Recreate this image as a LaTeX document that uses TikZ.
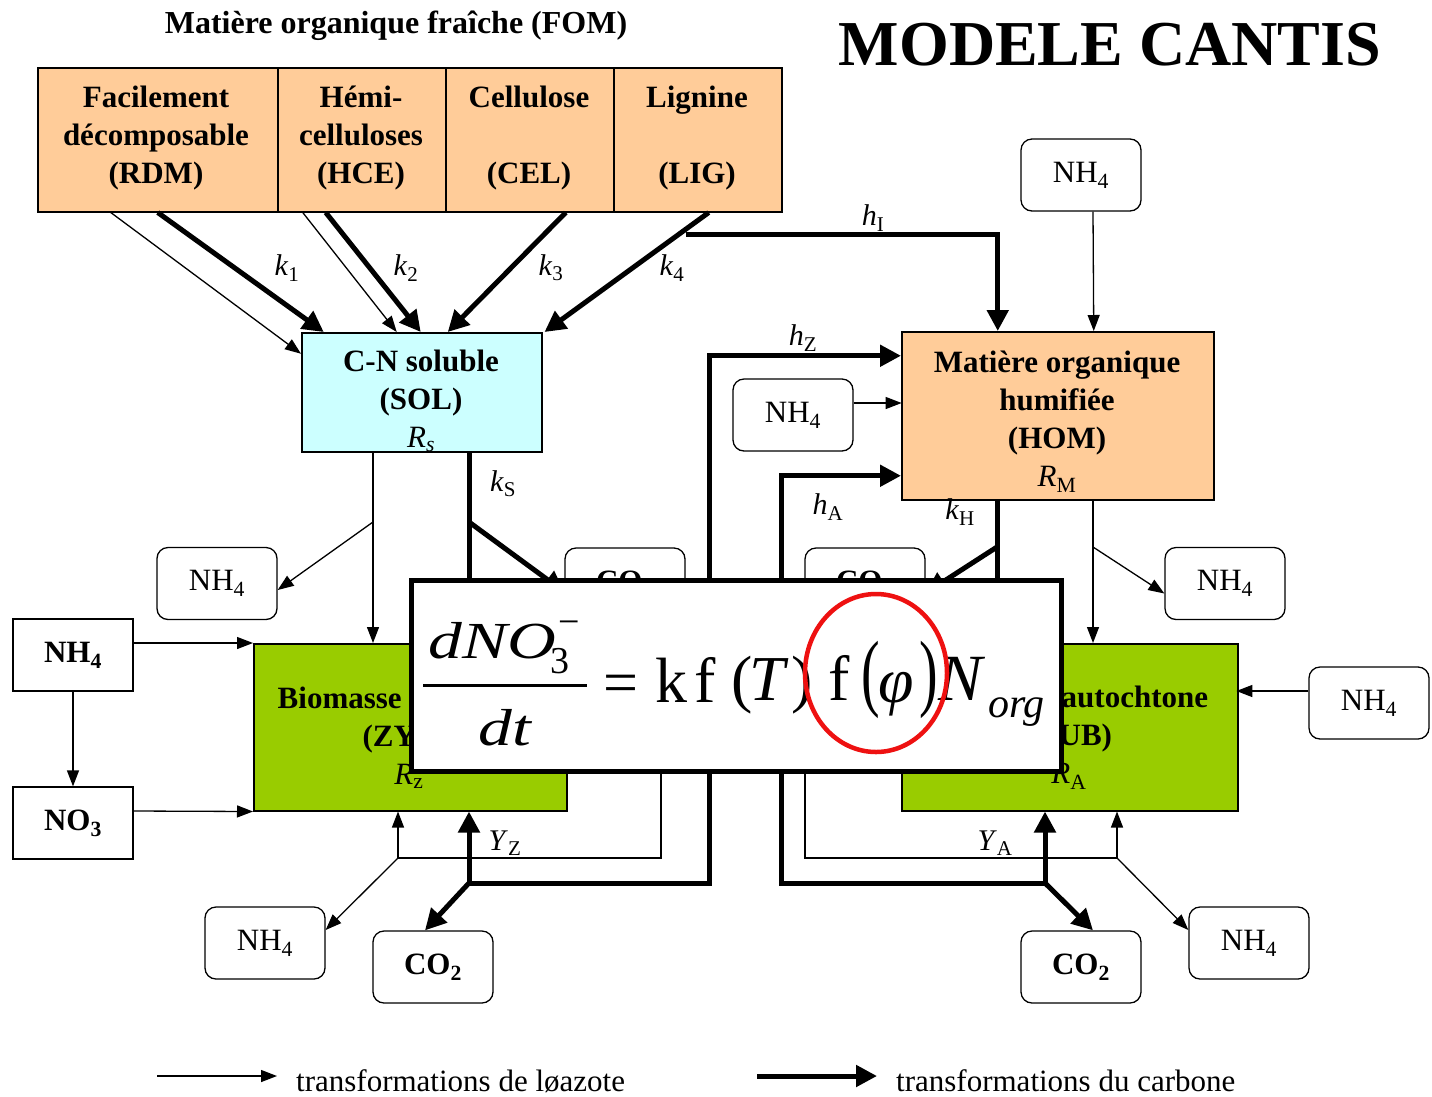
\documentclass[tikz,border=0pt]{standalone}
\usepackage{fontspec}
\usepackage{graphicx}
\setmainfont{Liberation Serif}
\usetikzlibrary{arrows.meta,calc}
\definecolor{peach}{HTML}{FFCC99}
\definecolor{solcyan}{HTML}{CCFFFF}
\definecolor{biogreen}{HTML}{99CC00}
\definecolor{circred}{HTML}{EE1111}
\newcommand\klab[2]{\textit{#1}\textsubscript{#2}}
\begin{document}
\begin{tikzpicture}[x=1pt,y=-1pt,
  txt/.style={font=\fontsize{31}{38}\selectfont, inner sep=0pt, align=center},
  btxt/.style={font=\fontsize{31}{38}\selectfont\bfseries, inner sep=0pt, align=center},
  compart/.style={draw, line width=1.5pt, inner sep=0pt, anchor=north west},
  rbox/.style={draw, line width=1.3pt, rounded corners=11pt, minimum width=120pt, minimum height=72pt, inner sep=0pt, font=\fontsize{31}{38}\selectfont, fill=white},
  sbox/.style={draw, line width=1.3pt, minimum width=120pt, minimum height=72pt, inner sep=0pt, font=\fontsize{31}{38}\selectfont\bfseries, fill=white},
  nline/.style={line width=1.3pt, -{Triangle[length=16pt,width=12pt]}},
  nplain/.style={line width=1.3pt},
  cline/.style={line width=5pt, -{Triangle[length=21pt,width=21pt]}},
  lab/.style={font=\fontsize{30}{36}\selectfont, inner sep=0pt},
  eqt/.style={inner sep=0pt, anchor=base west},
]
\useasboundingbox (0,0) rectangle (1432,1096);

% titles
\node[font=\fontsize{32}{38}\selectfont\bfseries, inner sep=0pt] (title) at (396,26) {Matière organique fraîche (FOM)};
\node[font=\fontsize{64}{70}\selectfont\bfseries, inner sep=0pt] (cantis) at (1110,45) {MODELE CANTIS};

% FOM compartments
\node[compart, fill=peach, minimum width=240pt, minimum height=144pt] (rdm) at (37,67) {};
\node[compart, fill=peach, minimum width=168pt, minimum height=144pt] (hce) at (277,67) {};
\node[compart, fill=peach, minimum width=168pt, minimum height=144pt] (cel) at (445,67) {};
\node[compart, fill=peach, minimum width=168pt, minimum height=144pt] (lig) at (613,67) {};
\node[btxt] (rdmt) at (156,138) {Facilement\\décomposable\\(RDM)};
\node[btxt] (hcet) at (361,138) {Hémi-\\celluloses\\(HCE)};
\node[btxt] (celt) at (529,138) {Cellulose\\~\\(CEL)};
\node[btxt] (ligt) at (697,138) {Lignine\\~\\(LIG)};

% SOL
\node[compart, fill=solcyan, minimum width=240pt, minimum height=119pt] (sol) at (301,332) {};
\node[btxt] (solt) at (421,401) {C-N soluble\\(SOL)\\{\mdseries\textit{R}\textsubscript{\textit{s}}}};

% HOM
\node[compart, fill=peach, minimum width=312pt, minimum height=168pt] (hom) at (901,331) {};
\node[btxt] (homt) at (1057,422) {Matière organique\\humifiée\\(HOM)\\{\mdseries\textit{R}\textsubscript{M}}};

% ZYM and AUB
\node[compart, fill=biogreen, minimum width=313pt, minimum height=167pt] (zym) at (253,643) {};
\node[btxt] (zymt) at (409,738) {Biomasse zymogène\\(ZYM)\\{\mdseries\textit{R}\textsubscript{z}}};
\node[compart, fill=biogreen, minimum width=336pt, minimum height=167pt] (aub) at (901,643) {};
\node[btxt] (aubt) at (1069,738) {Biomasse autochtone\\(AUB)\\{\mdseries\textit{R}\textsubscript{A}}};

% small boxes
\node[rbox] (nt) at (1081,175) {NH\textsubscript{4}};
\node[rbox] (nm) at (793,415) {NH\textsubscript{4}};
\node[rbox] (nul) at (217,583.5) {NH\textsubscript{4}};
\node[rbox] (nur) at (1225,583.5) {NH\textsubscript{4}};
\node[rbox] (nr) at (1369,703) {NH\textsubscript{4}};
\node[sbox] (nhb) at (73,655) {NH\textsubscript{4}};
\node[sbox] (no3) at (73,823) {NO\textsubscript{3}};
\node[rbox] (nbl) at (265,943) {NH\textsubscript{4}};
\node[rbox] (nbr) at (1249,943) {NH\textsubscript{4}};
\node[rbox, font=\fontsize{31}{38}\selectfont\bfseries] (co2l) at (433,967) {CO\textsubscript{2}};
\node[rbox, font=\fontsize{31}{38}\selectfont\bfseries] (co2r) at (1081,967) {CO\textsubscript{2}};
\node[rbox, font=\fontsize{31}{38}\selectfont\bfseries] (co1) at (625,584) {CO\textsubscript{2}};
\node[rbox, font=\fontsize{31}{38}\selectfont\bfseries] (co2b) at (865,584) {CO\textsubscript{2}};

% junction coordinates
\coordinate (hIs) at (686,234);
\coordinate (zb) at (469,883);
\coordinate (zr) at (709,883);
\coordinate (ab) at (1045,883);
\coordinate (ar) at (781,883);
\coordinate (ks) at (469,522);
\coordinate (kh) at (997,547);
\coordinate (s1) at (373,522);
\coordinate (h1) at (1093,547);
\coordinate (zt) at (398,858);
\coordinate (ztr) at (661,858);
\coordinate (at) at (1117,858);
\coordinate (atl) at (805,858);
\coordinate (eqc) at (736,675.5);

% FOM -> SOL
\draw[nline] ([xshift=-47pt]rdm.south) -- ([yshift=38.5pt]sol.west);
\draw[cline] (rdm.south) -- ([xshift=-98pt]sol.north);
\draw[nline] ([xshift=-59pt]hce.south) -- ([xshift=-25pt]sol.north);
\draw[cline] ([xshift=-36pt]hce.south) -- ([xshift=-1pt]sol.north);
\draw[cline] ([xshift=36pt]cel.south) -- ([xshift=26pt]sol.north);
\draw[cline] ([xshift=11pt]lig.south) -- ([xshift=2pt]sol.north east);

% FOM (lignin) -> HOM
\draw[cline] (hIs) -| ([xshift=-60pt]hom.north);
\draw[nline] ([xshift=12pt]nt.south) -- ([xshift=36pt]hom.north);
\draw[nline] ([yshift=12pt]nm.east) -- ++(48,0);

% humification from biomasses
\draw[cline] (zb) -- (zr) |- ([yshift=60pt]hom.west);
\draw[cline] (zb) -- (zb |- zym.south);
\draw[cline] (zb) -- ([xshift=-8pt]co2l.north);
\draw[cline] (ab) -- (ar) |- ([yshift=-60pt]hom.west);
\draw[cline] (ab) -- (ab |- aub.south);
\draw[cline] (ab) -- ([xshift=12pt]co2r.north);

% kS and kH
\draw[cline] (ks |- sol.south) -- (ks |- zym.north);
\draw[cline] (ks) -- ([yshift=-8pt]co1.west);
\draw[cline] (kh |- hom.south) -- (kh |- aub.north);
\draw[cline] (kh) -- ([yshift=-9pt]co2b.east);

% nitrogen flows
\draw[nline] (s1 |- sol.south) -- (s1 |- zym.north);
\draw[nline] (s1) -- ([yshift=-6.5pt]nul.east);
\draw[nline] (h1 |- hom.south) -- (h1 |- aub.north);
\draw[nline] (h1) -- ([yshift=-10pt]nur.west);
\draw[nline] (nhb.south) -- (no3.north);
\draw[nline] ([yshift=12pt]nhb.east) -- (zym.north west);
\draw[nline] ([yshift=12pt]no3.east) -- (zym.south west);
\draw[nline] ([yshift=12pt]nr.west) -- ++(-72,0);
\draw[nline] (zt) -- (zt |- zym.south);
\draw[nplain] (zt) -- (ztr) -- (ztr |- eqc);
\draw[nline] (zt) -- ([yshift=13pt]nbl.east);
\draw[nline] (at) -- (at |- aub.south);
\draw[nplain] (at) -- (atl) -- (atl |- eqc);
\draw[nline] (at) -- ([yshift=13pt]nbr.west);

% rate labels
\node[lab] (k1) at (287,268) {\klab{k}{1}};
\node[lab] (k2) at (406,268) {\klab{k}{2}};
\node[lab] (k3) at (551,268) {\klab{k}{3}};
\node[lab] (k4) at (672,268) {\klab{k}{4}};
\node[lab] (hI) at (873,218) {\klab{h}{I}};
\node[lab] (hZ) at (803,338) {\klab{h}{Z}};
\node[lab] (hA) at (828,507) {\klab{h}{A}};
\node[lab] (kH) at (960,512) {\klab{k}{H}};
\node[lab] (kS) at (503,484) {\klab{k}{S}};
\node[lab] (YZ) at (505,843) {\klab{Y}{Z}};
\node[lab] (YA) at (995,843) {\klab{Y}{A}};

% equation box
\node[draw, line width=5pt, fill=white, minimum width=650pt, minimum height=191pt, inner sep=0pt] (eqbox) at (eqc) {};
\node[eqt, font=\fontsize{52}{56}\selectfont\itshape] (e1) at (428,658) {\scalebox{1.3}[1]{dNO}};
\node[eqt, font=\fontsize{38}{40}\selectfont] (e2) at (550,673) {3};
\node[eqt, font=\fontsize{38}{40}\selectfont] (e3) at (558,634) {−};
\draw[line width=3pt] (423,685) -- (587,685);
\node[eqt, font=\fontsize{52}{56}\selectfont\itshape] (e4) at (478,745) {\scalebox{1.3}[1]{dt}};
\node[eqt, font=\fontsize{62}{66}\selectfont] (e5) at (603,703) {=};
\node[eqt, font=\fontsize{64}{70}\selectfont] (e6) at (655,702) {k};
\node[eqt, font=\fontsize{64}{70}\selectfont] (e7) at (694,702) {f};
\node[eqt, font=\fontsize{64}{70}\selectfont] (e8) at (731,700) {(};
\node[eqt, font=\fontsize{64}{70}\selectfont\itshape] (e9) at (749,700) {T};
\node[eqt, font=\fontsize{64}{70}\selectfont] (e10) at (791,700) {)};
\node[eqt, font=\fontsize{64}{70}\selectfont] (e11) at (828,700) {f};
\node[eqt, font=\fontsize{62}{70}\selectfont] (e12) at (861,700) {\scalebox{0.9}[1.38]{(}};
\node[eqt, font=\fontsize{64}{70}\selectfont\itshape] (e13) at (878,702) {φ};
\node[eqt, font=\fontsize{62}{70}\selectfont] (e14) at (919,700) {\scalebox{0.9}[1.38]{)}};
\node[eqt, font=\fontsize{66}{70}\selectfont\itshape] (e15) at (938,700) {N};
\node[eqt, font=\fontsize{42}{46}\selectfont\itshape] (e16) at (988,717) {org};
\draw[circred, line width=4.5pt] (876,673) ellipse [x radius=71pt, y radius=79pt];

% legend
\coordinate (l1a) at (157,1076);
\coordinate (l1b) at (277,1076);
\coordinate (l2a) at (757,1076);
\coordinate (l2b) at (877,1076);
\draw[nline] (l1a) -- (l1b);
\draw[cline] (l2a) -- (l2b);
\node[txt, anchor=base west] (leg1) at (296,1091) {transformations de løazote};
\node[txt, anchor=base west] (leg2) at (896,1091) {transformations du carbone};
\end{tikzpicture}
\end{document}
